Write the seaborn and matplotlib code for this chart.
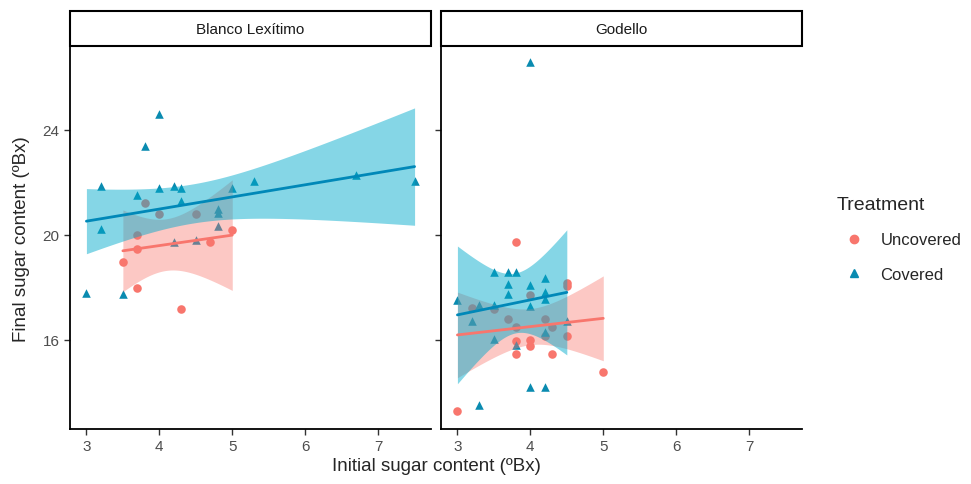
import math
import numpy as np
import pandas as pd
import seaborn as sns
import matplotlib.pyplot as plt
from matplotlib.lines import Line2D
from matplotlib.patches import Rectangle

# values
bl_unc_x = [3.5, 3.7, 3.7, 3.7, 3.8, 4.0, 4.3, 4.5, 4.7, 5.0]
bl_unc_y = [18.96, 20.0, 19.47, 17.98, 21.22, 20.8, 17.18, 20.8, 19.72, 20.19]

bl_cov_x = [4.0, 3.8, 3.2, 3.7, 4.0, 4.2, 4.3, 5.0, 4.3, 4.8, 4.8, 3.2, 4.8, 4.2,
            4.5, 3.0, 3.5, 5.3, 6.7, 7.5]
bl_cov_y = [24.6, 23.38, 21.86, 21.53, 21.78, 21.86, 21.78, 21.78, 21.3, 20.99, 20.84,
            20.23, 20.36, 19.75, 19.8, 17.8, 17.75, 22.07, 22.29, 22.07]

go_unc_x = [3.8, 4.5, 4.5, 4.0, 3.2, 3.5, 3.7, 4.2, 3.8, 4.3, 4.2, 4.5, 3.8, 4.0,
            4.0, 3.8, 4.3, 5.0, 3.0]
go_unc_y = [19.72, 18.17, 18.04, 17.7, 17.2, 17.18, 16.8, 16.8, 16.5, 16.5, 16.17,
            16.17, 15.97, 16.0, 15.76, 15.47, 15.47, 14.8, 13.29]

go_cov_x = [4.0, 3.5, 3.7, 3.8, 4.2, 3.7, 4.0, 3.7, 4.2, 4.2, 3.0, 3.3, 3.5, 4.0,
            3.2, 4.5, 4.2, 3.5, 3.8, 4.0, 4.2, 3.3]
go_cov_y = [26.58, 18.58, 18.58, 18.58, 18.35, 18.12, 18.1, 17.75, 17.84, 17.56, 17.53,
            17.34, 17.34, 17.28, 16.73, 16.73, 16.3, 16.04, 15.8, 14.2, 14.2, 13.52]

varieties = ["Blanco Lexítimo", "Godello"]
treatments = ["Uncovered", "Covered"]
x_ticks = [3, 4, 5, 6, 7]
y_ticks = [16, 20, 24]

frames = []
for var, tr, xs, ys in [(varieties[0], treatments[0], bl_unc_x, bl_unc_y),
                        (varieties[0], treatments[1], bl_cov_x, bl_cov_y),
                        (varieties[1], treatments[0], go_unc_x, go_unc_y),
                        (varieties[1], treatments[1], go_cov_x, go_cov_y)]:
    frames.append(pd.DataFrame({"Variety": var, "Treatment": tr,
                                "initial": xs, "final": ys}))
df = pd.concat(frames, ignore_index=True)

point_col = {"Uncovered": "#F8766D", "Covered": "#0A8BB0"}
line_col = {"Uncovered": "#F8766D", "Covered": "#0088B8"}
band_col = {"Uncovered": ("#F8766D", 0.4), "Covered": ("#00AACB", 0.48)}


def t_crit(dof, q=0.975):
    xs = np.linspace(0, 12, 24001)
    c = math.gamma((dof + 1) / 2) / (math.sqrt(dof * math.pi) * math.gamma(dof / 2))
    pdf = c * (1 + xs ** 2 / dof) ** (-(dof + 1) / 2)
    cdf = 0.5 + np.concatenate([[0], np.cumsum((pdf[1:] + pdf[:-1]) / 2 * np.diff(xs))])
    return np.interp(q, cdf, xs)


def smooth(data, color=None, label=None, **kws):
    # linear fit with 95% confidence band, drawn over the points
    ax = plt.gca()
    tr = data["Treatment"].iloc[0]
    x = data["initial"].to_numpy()
    y = data["final"].to_numpy()
    n = len(x)
    b, a = np.polyfit(x, y, 1)
    grid = np.linspace(x.min(), x.max(), 80)
    fit = a + b * grid
    resid = y - (a + b * x)
    s = np.sqrt(np.sum(resid ** 2) / (n - 2))
    se = s * np.sqrt(1 / n + (grid - x.mean()) ** 2 / np.sum((x - x.mean()) ** 2))
    t = t_crit(n - 2)
    fc, al = band_col[tr]
    ax.fill_between(grid, fit - t * se, fit + t * se, color=fc, alpha=al, lw=0, zorder=3)
    ax.plot(grid, fit, color=line_col[tr], lw=2, zorder=4)


sns.set_style("white")
plt.rcParams["font.family"] = ["Liberation Sans", "DejaVu Sans"]

g = sns.FacetGrid(df, col="Variety", col_order=varieties, hue="Treatment",
                  hue_order=treatments, palette=point_col,
                  hue_kws={"marker": ["o", "^"]}, sharey=True, sharex=True)
g.map_dataframe(sns.scatterplot, x="initial", y="final", s=38, linewidth=0, zorder=2)
g.map_dataframe(smooth)

fig = g.figure
fig.set_size_inches(9.71, 4.85)
fig.subplots_adjust(left=70 / 971, right=802 / 971, top=1 - 48 / 485,
                    bottom=1 - 430 / 485, wspace=10 / 360)

for ax, var in zip(g.axes.flat, varieties):
    ax.set_xlim(2.775, 7.725)
    ax.set_ylim(12.61, 27.16)
    ax.set_xticks(x_ticks)
    ax.set_yticks(y_ticks)
    ax.set_title("")
    ax.set_xlabel("")
    ax.set_ylabel("")
    for sp in ["top", "right"]:
        ax.spines[sp].set_visible(False)
    for sp in ["left", "bottom"]:
        ax.spines[sp].set_color("black")
        ax.spines[sp].set_linewidth(1.3)
    ax.tick_params(axis="both", direction="out", length=4, width=1, color="#333333",
                   labelsize=11, labelcolor="#4D4D4D", left=True, bottom=True)
    ax.add_patch(Rectangle((0, 1.003), 1, 0.09, transform=ax.transAxes,
                           facecolor="white", edgecolor="black", lw=1.5, clip_on=False))
    ax.text(0.5, 1.048, var, transform=ax.transAxes, ha="center", va="center",
            fontsize=11, color="#1A1A1A")

g.axes.flat[1].tick_params(labelleft=False)

fig.text(436 / 971, 1 - 467 / 485, "Initial sugar content (ºBx)", ha="center",
         va="center", fontsize=13.5)
fig.text(22 / 971, 1 - 239 / 485, "Final sugar content (ºBx)", ha="center",
         va="center", rotation=90, fontsize=13.5)

handles = [Line2D([], [], marker="o", ls="", color=point_col["Uncovered"], markersize=6),
           Line2D([], [], marker="^", ls="", color=point_col["Covered"], markersize=6)]
leg = fig.legend(handles, treatments, title="Treatment", loc="center left",
                 bbox_to_anchor=(822 / 971, 1 - 240 / 485), frameon=False,
                 fontsize=12, title_fontsize=14, handletextpad=0.6,
                 labelspacing=1.15)
leg._legend_box.align = "left"

fig.savefig("out.png", dpi=100)
